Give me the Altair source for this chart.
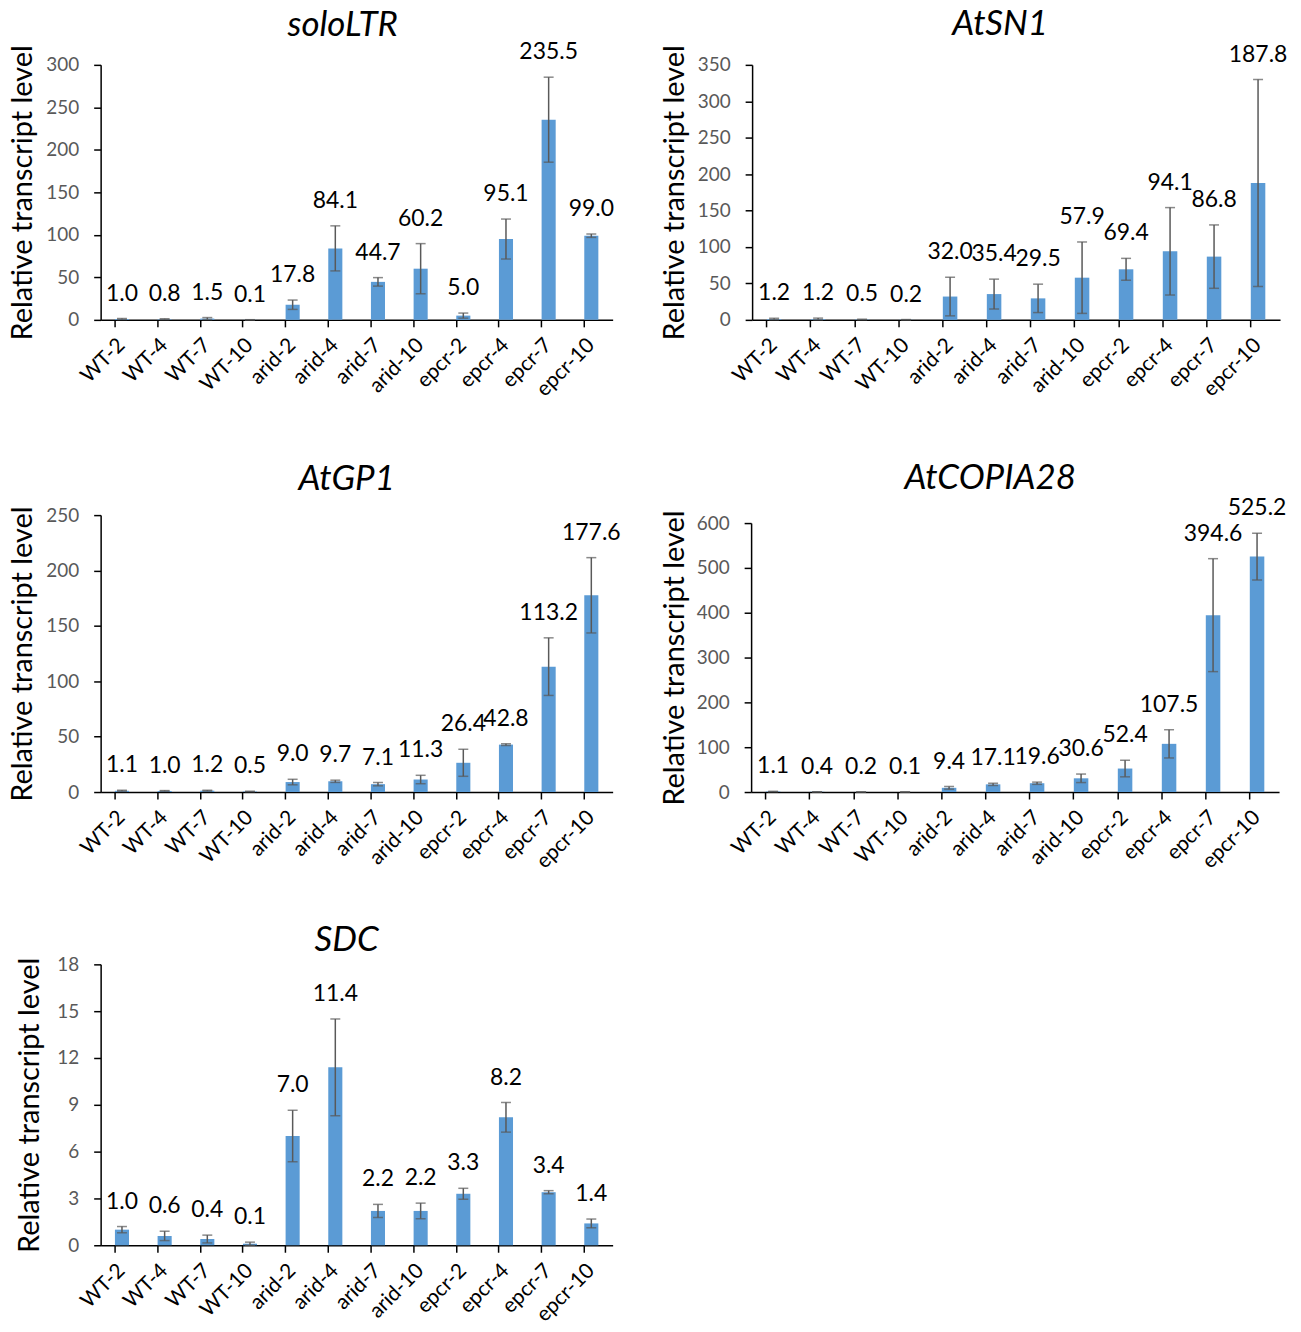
import altair as alt
import pandas as pd

categories = ["WT-2", "WT-4", "WT-7", "WT-10", "arid-2", "arid-4", "arid-7",
              "arid-10", "epcr-2", "epcr-4", "epcr-7", "epcr-10"]

solo_mean = [1.0, 0.8, 1.5, 0.1, 17.8, 84.1, 44.7, 60.2, 5.0, 95.1, 235.5, 99.0]
solo_err = [0.6, 0.5, 1.2, 0.1, 5.5, 26.5, 5.0, 29.5, 3.0, 23.5, 50.0, 2.0]

sn1_mean = [1.2, 1.2, 0.5, 0.2, 32.0, 35.4, 29.5, 57.9, 69.4, 94.1, 86.8, 187.8]
sn1_err = [1.0, 1.2, 0.4, 0.2, 26.5, 20.5, 19.5, 49.0, 15.0, 60.0, 43.5, 142.0]

gp1_mean = [1.1, 1.0, 1.2, 0.5, 9.0, 9.7, 7.1, 11.3, 26.4, 42.8, 113.2, 177.6]
gp1_err = [0.5, 0.3, 0.4, 0.2, 2.5, 1.0, 1.5, 3.8, 12.2, 0.8, 26.0, 34.0]

copia_mean = [1.1, 0.4, 0.2, 0.1, 9.4, 17.1, 19.6, 30.6, 52.4, 107.5, 394.6, 525.2]
copia_err = [0.5, 0.2, 0.1, 0.1, 3.0, 2.5, 2.5, 9.5, 18.5, 31.5, 126.0, 52.0]

sdc_mean = [1.0, 0.6, 0.4, 0.1, 7.0, 11.4, 2.2, 2.2, 3.3, 8.2, 3.4, 1.4]
sdc_err = [0.2, 0.3, 0.25, 0.1, 1.65, 3.1, 0.42, 0.5, 0.35, 0.95, 0.1, 0.28]

FONT = "Lato"
BAR = "#5B9BD5"
ERR = "#595959"


def panel(title, means, errs, ymax, ystep, width, height, toffset, tdx,
          title_pad=8, label_pad=15, xtitle=None):
    df = pd.DataFrame({
        "cat": categories,
        "mean": means,
        "lo": [max(m - e, 0) for m, e in zip(means, errs)],
        "hi": [m + e for m, e in zip(means, errs)],
        "label": [f"{m:.1f}" for m in means],
    })
    xaxis_kw = dict(labelAngle=-45, labelAlign="right", labelBaseline="middle",
                    labelFont=FONT, labelFontSize=21, labelColor="black",
                    labelPadding=15, bandPosition=0, tickSize=7,
                    tickColor="black", tickWidth=1.5, domainColor="black",
                    domainWidth=1.5, grid=False, labelOverlap=False)
    if xtitle is not None:
        xaxis_kw.update(titleFontSize=10, titlePadding=0)
    x = alt.X("cat:N", sort=categories,
              title=xtitle if xtitle is not None else None,
              scale=alt.Scale(paddingInner=0.67, paddingOuter=0.335),
              axis=alt.Axis(**xaxis_kw))
    yscale = alt.Scale(domain=[0, ymax], nice=False)
    yaxis = alt.Axis(values=list(range(0, ymax + 1, ystep)), grid=False,
                     labelFont=FONT, labelFontSize=19, labelColor="#595959",
                     labelPadding=label_pad, tickSize=7, tickColor="black",
                     tickWidth=1.5, domainColor="black", domainWidth=1.5,
                     titleFont=FONT, titleFontSize=29, titleColor="black",
                     titleFontWeight="normal", titlePadding=title_pad)
    ytitle = "Relative transcript level"

    def Y(field):
        return alt.Y(field, scale=yscale, title=ytitle, axis=yaxis)

    base = alt.Chart(df).encode(x=x)
    bars = base.mark_bar(color=BAR).encode(y=Y("mean:Q"))
    rule = base.mark_rule(color=ERR, strokeWidth=1.5).encode(y=Y("lo:Q"), y2="hi:Q")
    cap_hi = base.mark_tick(color=ERR, thickness=1.5, size=10).encode(y=Y("hi:Q"))
    cap_lo = base.mark_tick(color=ERR, thickness=1.5, size=10).encode(y=Y("lo:Q"))
    text = base.mark_text(dy=-25, font=FONT, fontSize=23, color="black").encode(
        y=Y("hi:Q"), text="label:N")
    return alt.layer(bars, rule, cap_hi, cap_lo, text).properties(
        width=width, height=height,
        title=alt.TitleParams(title, font=FONT, fontSize=35, fontStyle="italic",
                              fontWeight="normal", color="black", anchor="middle",
                              offset=toffset, dx=tdx))


A = panel("soloLTR", solo_mean, solo_err, 300, 50, 514, 256, -1.5, -14, title_pad=8, xtitle=" ")
B = panel("AtSN1", sn1_mean, sn1_err, 530 and 350, 50, 530, 256, 2.2, -16, xtitle=" ")
C = panel("AtGP1", gp1_mean, gp1_err, 250, 50, 514, 278, 9, -10)
D = panel("AtCOPIA28", copia_mean, copia_err, 600, 100, 530, 270, 1, -25, title_pad=7)
E = panel("SDC", sdc_mean, sdc_err, 18, 3, 514, 282, -3, -10, title_pad=12, label_pad=15)

chart = alt.concat(A, B, C, D, E, columns=2, align="none",
                   spacing={"row": 51, "column": 39}).properties(
    padding={"left": 0, "top": -4.5, "right": 5, "bottom": 5}
).configure_view(stroke=None)

chart.save("out.html", embed_options={"renderer": "svg", "actions": False})
